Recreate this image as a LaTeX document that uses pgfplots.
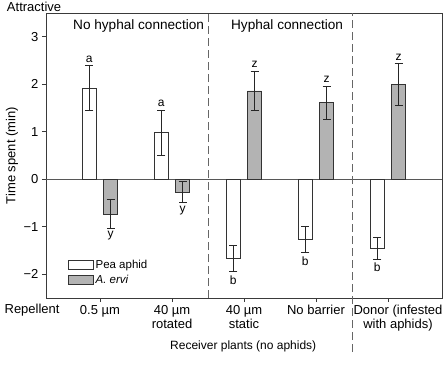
\documentclass[border=0pt]{standalone}
\usepackage{pgfplots}
\pgfplotsset{compat=1.18}
\usepackage{fontspec}
\setmainfont{Liberation Sans}
\newcommand\fs{\fontsize{13pt}{14pt}\selectfont}
\newcommand\fh{\fontsize{13.6pt}{15pt}\selectfont}
\newcommand\fr{\fontsize{12pt}{13pt}\selectfont}
\newcommand\fl{\fontsize{11.5pt}{12pt}\selectfont}
\newcommand\fm{\fontsize{12pt}{13pt}\selectfont}
\definecolor{barg}{HTML}{B3B3B3}
\definecolor{axc}{HTML}{3A3A3A}
\begin{document}
\begin{tikzpicture}
\path[use as bounding box] (-46pt,-69pt) rectangle (397pt,298pt);
\begin{axis}[
  scale only axis,
  width=396pt, height=285pt,
  xmin=-0.75, xmax=4.75, ymin=-2.5, ymax=3.5,
  axis line style={axc, line width=0.8pt},
  clip=false,
  xtick={0,1,2,3},
  xticklabels={{0.5 µm},{40 µm\\rotated},{40 µm\\static},{No barrier}},
  extra x ticks={4},
  extra x tick labels={{Donor (infested\\with aphids)}},
  extra x tick style={xticklabel style={xshift=10pt}},
  ytick={-2,-1,0,1,2,3},
  yticklabels={{−2},{−1},0,1,2,3},
  tick align=outside,
  xtick pos=bottom, ytick pos=left,
  major tick length=4pt,
  tick style={axc, line width=0.8pt},
  tick label style={font=\fs},
  xticklabel style={align=center},
  ylabel={Time spent (min)},
  ylabel style={font=\fs, at={(axis description cs:-0.086,0.5)}, anchor=center},
  legend style={at={(axis description cs:0.052,0.145)}, anchor=north west, draw=none, fill=none, font=\fl, row sep=1.5pt, inner sep=1pt},
  legend cell align=left,
]
\addlegendimage{legend image code/.code={\draw[draw=black!80,fill=white,line width=0.8pt] (0pt,-4.5pt) rectangle (25pt,4.5pt);}}
\addlegendentry{Pea aphid}
\addlegendimage{legend image code/.code={\draw[draw=black!80,fill=barg,line width=0.8pt] (0pt,-4.5pt) rectangle (25pt,4.5pt);}}
\addlegendentry{\itshape A. ervi}

\draw[axc!85, line width=0.8pt] (axis cs:-0.75,0) -- (axis cs:4.75,0);

\addplot[ybar, bar width=14pt, bar shift=0pt, fill=white, draw=black!80, line width=0.8pt, forget plot,
  error bars/.cd, y dir=both, y explicit, error bar style={black!85, line width=0.8pt},
  error mark options={rotate=90, mark size=4pt, black!85, line width=0.8pt}]
  table[x=x, y=y, y error=e] {
x y e
-0.149 1.92 0.47
0.851 0.98 0.48
1.851 -1.67 0.28
2.851 -1.27 0.28
3.851 -1.45 0.23
};
\addplot[ybar, bar width=14pt, bar shift=0pt, fill=barg, draw=black!80, line width=0.8pt, forget plot,
  error bars/.cd, y dir=both, y explicit, error bar style={black!85, line width=0.8pt},
  error mark options={rotate=90, mark size=4pt, black!85, line width=0.8pt}]
  table[x=x, y=y, y error=e] {
x y e
0.149 -0.73 0.30
1.149 -0.27 0.22
2.149 1.86 0.42
3.149 1.61 0.35
4.149 1.99 0.44
};

\draw[black!60, line width=0.8pt, dash pattern=on 8pt off 4pt] (axis cs:1.5,-2.5) -- (axis cs:1.5,3.5);
\draw[black!60, line width=0.8pt, dash pattern=on 8pt off 4pt] (axis cs:3.5,-3.64) -- (axis cs:3.5,3.5);

\begin{scope}[every node/.style={font=\fm, inner sep=0pt}]
\node[anchor=south, yshift=3pt] at (axis cs:-0.149,2.39) {a};
\node[anchor=south, yshift=3pt] at (axis cs:0.851,1.46) {a};
\node[anchor=north, yshift=-3.5pt] at (axis cs:1.851,-1.95) {b};
\node[anchor=north, yshift=-3.5pt] at (axis cs:2.851,-1.55) {b};
\node[anchor=north, yshift=-3.5pt] at (axis cs:3.851,-1.68) {b};
\node[anchor=north, yshift=-3pt] at (axis cs:0.149,-1.03) {y};
\node[anchor=north, yshift=-3pt] at (axis cs:1.149,-0.49) {y};
\node[anchor=south, yshift=3pt] at (axis cs:2.149,2.28) {z};
\node[anchor=south, yshift=3pt] at (axis cs:3.149,1.96) {z};
\node[anchor=south, yshift=3pt] at (axis cs:4.149,2.43) {z};
\end{scope}

\begin{scope}[every node/.style={font=\fs, inner sep=0pt}]
\node[anchor=base west, font=\fh] at (axis cs:-0.375,3.143) {No hyphal connection};
\node[anchor=base west, font=\fh] at (axis cs:1.819,3.143) {Hyphal connection};
\node[anchor=base west] at (axis description cs:-0.099,1.0053) {Attractive};
\node[anchor=base west] at (axis description cs:-0.105,-0.056) {Repellent};
\node[anchor=base west, font=\fr] at (axis cs:0.972,-3.594) {Receiver plants (no aphids)};
\end{scope}
\end{axis}
\end{tikzpicture}
\end{document}
